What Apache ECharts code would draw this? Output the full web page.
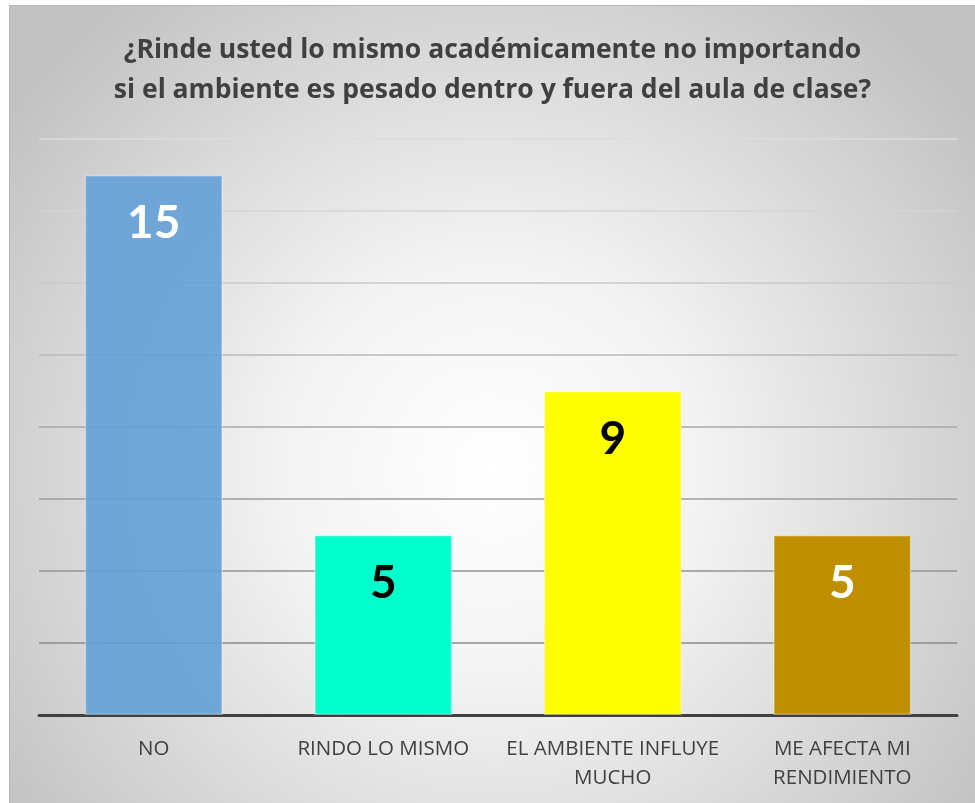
<!DOCTYPE html>
<html>
<head>
<meta charset="utf-8">
<script src="https://cdn.jsdelivr.net/npm/echarts@6/dist/echarts.min.js"></script>
<style>
  html, body { margin: 0; padding: 0; background: #fff; }
  #chart {
    position: absolute;
    left: 9px;
    top: 5px;
    width: 966px;
    height: 798px;
    box-sizing: border-box;
    border-left: 1px solid #b5b5b5;
    border-top: 1px solid #b5b5b5;
  }
</style>
</head>
<body>
<div id="chart"></div>
<script>
const titleText = '¿Rinde usted lo mismo académicamente no importando\nsi el ambiente es pesado dentro y fuera del aula de clase?'
const categories = ['NO', 'RINDO LO MISMO', 'EL AMBIENTE INFLUYE\nMUCHO', 'ME AFECTA MI\nRENDIMIENTO']
const values = [15, 5, 9, 5]
const barColors = ['rgba(96, 158, 214, 0.88)', '#00ffcc', '#ffff00', '#bf8f00']
const labelColors = ['#ffffff', '#000000', '#000000', '#ffffff']

const chart = echarts.init(document.getElementById('chart'))

const option = {
  backgroundColor: new echarts.graphic.RadialGradient(0.5, 0.58, 0.75, [
    { offset: 0, color: '#ffffff' },
    { offset: 0.35, color: '#f3f3f3' },
    { offset: 1, color: '#c2c2c2' },
  ]),
  title: {
    text: titleText,
    left: 'center',
    top: 19,
    textStyle: {
      fontFamily: 'Open Sans',
      fontWeight: 'bold',
      fontSize: 26.5,
      lineHeight: 40,
      color: '#404040',
    },
  },
  grid: {
    left: 29,
    right: 18,
    top: 133,
    bottom: 88,
    containLabel: false,
  },
  xAxis: {
    type: 'category',
    data: categories,
    axisLine: {
      show: true,
      lineStyle: { color: '#404040', width: 3 },
    },
    axisTick: { show: false },
    axisLabel: {
      interval: 0,
      margin: 20,
      fontFamily: 'Open Sans',
      fontSize: 20.5,
      lineHeight: 29,
      color: '#404040',
    },
  },
  yAxis: {
    type: 'value',
    min: 0,
    max: 16,
    interval: 2,
    axisLabel: { show: false },
    axisLine: { show: false },
    axisTick: { show: false },
    splitLine: {
      show: true,
      lineStyle: {
        width: 1.5,
        color: ['#404040', '#8a8a8a', '#939393', '#9c9c9c', '#a8a8a8', '#b8b8b8', '#c8c8c8', '#d4d4d4', '#dddddd'],
      },
    },
  },
  series: [
    {
      type: 'bar',
      barWidth: 138,
      data: values.map((v, i) => ({
        value: v,
        itemStyle: {
          color: barColors[i],
          borderColor: 'rgba(255, 255, 255, 0.35)',
          borderWidth: 1.5,
        },
        label: { color: labelColors[i] },
      })),
      label: {
        show: true,
        position: 'insideTop',
        distance: 25,
        fontFamily: 'Lato',
        fontWeight: 'bold',
        fontSize: 46,
        lineHeight: 46,
      },
    },
  ],
}

chart.setOption(option)
</script>
</body>
</html>
